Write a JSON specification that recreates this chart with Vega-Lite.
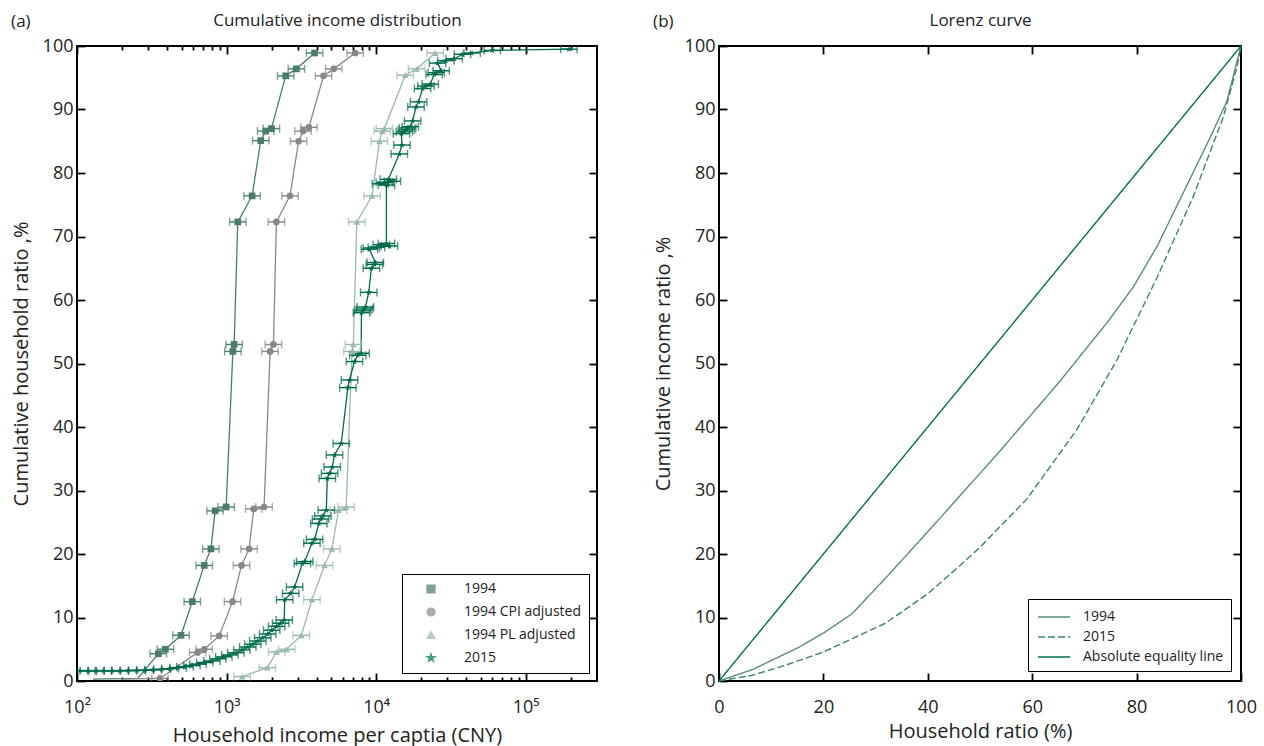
{
 "$schema": "https://vega.github.io/schema/vega-lite/v6.json",
 "padding": {"left": 10, "top": 10, "right": 5, "bottom": 0},
 "config": {
  "font": "Open Sans",
  "view": {"stroke": "#000", "strokeWidth": 2},
  "axis": {"domain": false, "grid": false, "tickColor": "#000", "tickWidth": 1.8, "labelColor": "#222", "titleColor": "#222", "labelFontSize": 18, "titleFontSize": 20, "titleFontWeight": "normal", "labelFont": "Open Sans", "titleFont": "Open Sans", "labelOverlap": false, "labelFlush": false},
  "title": {"font": "Open Sans", "fontSize": 17, "fontWeight": "normal", "color": "#222"},
  "legend": {"labelFont": "Open Sans", "labelColor": "#222"},
  "concat": {"spacing": 53}
 },
 "resolve": {"scale": {"x": "independent", "y": "independent", "color": "independent", "shape": "independent", "strokeDash": "independent"}},
 "datasets": {
  "cdf": [
   {"series":"1994","x":128,"y":0.3},
   {"series":"1994","x":255,"y":0.4},
   {"series":"1994","x":293,"y":2.1},
   {"series":"1994","x":350,"y":4.3,"lo":308,"hi":397},
   {"series":"1994","x":390,"y":5.0,"lo":344,"hi":443},
   {"series":"1994","x":496,"y":7.2,"lo":437,"hi":563},
   {"series":"1994","x":590,"y":12.5,"lo":520,"hi":670},
   {"series":"1994","x":709,"y":18.2,"lo":625,"hi":805},
   {"series":"1994","x":786,"y":20.8,"lo":692,"hi":892},
   {"series":"1994","x":839,"y":26.8,"lo":739,"hi":952},
   {"series":"1994","x":994,"y":27.4,"lo":876,"hi":1128},
   {"series":"1994","x":1102,"y":51.9,"lo":971,"hi":1251},
   {"series":"1994","x":1124,"y":53.0,"lo":990,"hi":1276},
   {"series":"1994","x":1189,"y":72.3,"lo":1048,"hi":1350},
   {"series":"1994","x":1482,"y":76.4,"lo":1306,"hi":1682},
   {"series":"1994","x":1693,"y":85.1,"lo":1492,"hi":1922},
   {"series":"1994","x":1828,"y":86.6,"lo":1610,"hi":2075},
   {"series":"1994","x":1995,"y":87.0,"lo":1758,"hi":2264},
   {"series":"1994","x":2485,"y":95.3,"lo":2189,"hi":2820},
   {"series":"1994","x":2930,"y":96.4,"lo":2581,"hi":3326},
   {"series":"1994","x":3880,"y":98.9,"lo":3418,"hi":4404},
   {"series":"1994 CPI adjusted","x":200,"y":0.3},
   {"series":"1994 CPI adjusted","x":359,"y":0.4,"lo":316,"hi":407},
   {"series":"1994 CPI adjusted","x":641,"y":4.5,"lo":565,"hi":728},
   {"series":"1994 CPI adjusted","x":709,"y":5.0,"lo":625,"hi":805},
   {"series":"1994 CPI adjusted","x":893,"y":7.1,"lo":787,"hi":1014},
   {"series":"1994 CPI adjusted","x":1096,"y":12.5,"lo":966,"hi":1244},
   {"series":"1994 CPI adjusted","x":1259,"y":18.2,"lo":1109,"hi":1429},
   {"series":"1994 CPI adjusted","x":1416,"y":20.8,"lo":1247,"hi":1607},
   {"series":"1994 CPI adjusted","x":1520,"y":27.1,"lo":1339,"hi":1725},
   {"series":"1994 CPI adjusted","x":1782,"y":27.4,"lo":1570,"hi":2023},
   {"series":"1994 CPI adjusted","x":1955,"y":51.9,"lo":1722,"hi":2219},
   {"series":"1994 CPI adjusted","x":2057,"y":53.0,"lo":1812,"hi":2335},
   {"series":"1994 CPI adjusted","x":2155,"y":72.3,"lo":1899,"hi":2446},
   {"series":"1994 CPI adjusted","x":2655,"y":76.4,"lo":2339,"hi":3013},
   {"series":"1994 CPI adjusted","x":3035,"y":85.0,"lo":2674,"hi":3445},
   {"series":"1994 CPI adjusted","x":3245,"y":86.6,"lo":2859,"hi":3683},
   {"series":"1994 CPI adjusted","x":3555,"y":87.2,"lo":3132,"hi":4035},
   {"series":"1994 CPI adjusted","x":4450,"y":95.3,"lo":3920,"hi":5051},
   {"series":"1994 CPI adjusted","x":5212,"y":96.4,"lo":4592,"hi":5916},
   {"series":"1994 CPI adjusted","x":7244,"y":98.9,"lo":6382,"hi":8222},
   {"series":"1994 PL adjusted","x":1271,"y":0.7,"lo":1120,"hi":1443},
   {"series":"1994 PL adjusted","x":1875,"y":2.1,"lo":1652,"hi":2128},
   {"series":"1994 PL adjusted","x":2163,"y":4.6,"lo":1906,"hi":2455},
   {"series":"1994 PL adjusted","x":2523,"y":5.0,"lo":2223,"hi":2864},
   {"series":"1994 PL adjusted","x":3162,"y":7.2,"lo":2786,"hi":3589},
   {"series":"1994 PL adjusted","x":3724,"y":12.8,"lo":3281,"hi":4227},
   {"series":"1994 PL adjusted","x":4519,"y":18.2,"lo":3981,"hi":5129},
   {"series":"1994 PL adjusted","x":5060,"y":20.8,"lo":4458,"hi":5743},
   {"series":"1994 PL adjusted","x":5610,"y":26.9,"lo":4942,"hi":6367},
   {"series":"1994 PL adjusted","x":6310,"y":27.4,"lo":5559,"hi":7162},
   {"series":"1994 PL adjusted","x":6900,"y":51.9,"lo":6079,"hi":7832},
   {"series":"1994 PL adjusted","x":7050,"y":53.0,"lo":6211,"hi":8002},
   {"series":"1994 PL adjusted","x":7430,"y":72.3,"lo":6546,"hi":8433},
   {"series":"1994 PL adjusted","x":9400,"y":76.4,"lo":8281,"hi":10669},
   {"series":"1994 PL adjusted","x":10520,"y":85.0,"lo":9268,"hi":11940},
   {"series":"1994 PL adjusted","x":11000,"y":86.6,"lo":9691,"hi":12485},
   {"series":"1994 PL adjusted","x":11350,"y":87.0,"lo":9999,"hi":12882},
   {"series":"1994 PL adjusted","x":15670,"y":95.4,"lo":13805,"hi":17785},
   {"series":"1994 PL adjusted","x":18660,"y":96.4,"lo":16439,"hi":21179},
   {"series":"1994 PL adjusted","x":24850,"y":98.9,"lo":21893,"hi":28205},
   {"series":"2015","x":105,"y":1.6,"lo":92.5,"hi":119.2},
   {"series":"2015","x":119,"y":1.6,"lo":104.8,"hi":135.1},
   {"series":"2015","x":134,"y":1.6,"lo":118.1,"hi":152.1},
   {"series":"2015","x":150,"y":1.6,"lo":132.2,"hi":170.3},
   {"series":"2015","x":172,"y":1.6,"lo":151.5,"hi":195.2},
   {"series":"2015","x":194,"y":1.6,"lo":170.9,"hi":220.2},
   {"series":"2015","x":220,"y":1.65,"lo":193.8,"hi":249.7},
   {"series":"2015","x":252,"y":1.65,"lo":222,"hi":286},
   {"series":"2015","x":285,"y":1.7,"lo":251.1,"hi":323.5},
   {"series":"2015","x":323,"y":1.75,"lo":284.6,"hi":366.6},
   {"series":"2015","x":370,"y":1.85,"lo":326,"hi":420},
   {"series":"2015","x":419,"y":1.95,"lo":369.1,"hi":475.6},
   {"series":"2015","x":473,"y":2.1,"lo":416.7,"hi":536.9},
   {"series":"2015","x":527,"y":2.25,"lo":464.3,"hi":598.1},
   {"series":"2015","x":587,"y":2.45,"lo":517.1,"hi":666.2},
   {"series":"2015","x":644,"y":2.65,"lo":567.4,"hi":730.9},
   {"series":"2015","x":716,"y":2.9,"lo":630.8,"hi":812.7},
   {"series":"2015","x":798,"y":3.15,"lo":703,"hi":905.7},
   {"series":"2015","x":875,"y":3.5,"lo":770.9,"hi":993.1},
   {"series":"2015","x":959,"y":3.8,"lo":844.9,"hi":1088},
   {"series":"2015","x":1052,"y":4.1,"lo":926.8,"hi":1194},
   {"series":"2015","x":1153,"y":4.45,"lo":1016,"hi":1309},
   {"series":"2015","x":1265,"y":4.9,"lo":1114,"hi":1436},
   {"series":"2015","x":1387,"y":5.35,"lo":1222,"hi":1574},
   {"series":"2015","x":1497,"y":5.8,"lo":1319,"hi":1699},
   {"series":"2015","x":1618,"y":6.3,"lo":1425,"hi":1836},
   {"series":"2015","x":1746,"y":6.8,"lo":1538,"hi":1982},
   {"series":"2015","x":1885,"y":7.4,"lo":1661,"hi":2139},
   {"series":"2015","x":2004,"y":8.0,"lo":1766,"hi":2275},
   {"series":"2015","x":2163,"y":8.6,"lo":1906,"hi":2455},
   {"series":"2015","x":2301,"y":9.1,"lo":2027,"hi":2612},
   {"series":"2015","x":2430,"y":9.6,"lo":2141,"hi":2758},
   {"series":"2015","x":2448,"y":12.8,"lo":2157,"hi":2778},
   {"series":"2015","x":2685,"y":13.8,"lo":2365,"hi":3047},
   {"series":"2015","x":2851,"y":14.8,"lo":2512,"hi":3236},
   {"series":"2015","x":3214,"y":18.5,"lo":2832,"hi":3648},
   {"series":"2015","x":3330,"y":18.8,"lo":2934,"hi":3780},
   {"series":"2015","x":3724,"y":21.7,"lo":3281,"hi":4227},
   {"series":"2015","x":3880,"y":22.3,"lo":3418,"hi":4404},
   {"series":"2015","x":4140,"y":24.8,"lo":3647,"hi":4699},
   {"series":"2015","x":4254,"y":25.5,"lo":3748,"hi":4828},
   {"series":"2015","x":4406,"y":26.0,"lo":3882,"hi":5001},
   {"series":"2015","x":4645,"y":26.9,"lo":4092,"hi":5272},
   {"series":"2015","x":4715,"y":31.9,"lo":4154,"hi":5352},
   {"series":"2015","x":4883,"y":32.7,"lo":4302,"hi":5542},
   {"series":"2015","x":5091,"y":33.7,"lo":4485,"hi":5778},
   {"series":"2015","x":5273,"y":35.6,"lo":4646,"hi":5985},
   {"series":"2015","x":5848,"y":37.4,"lo":5152,"hi":6637},
   {"series":"2015","x":6475,"y":46.2,"lo":5704,"hi":7349},
   {"series":"2015","x":6642,"y":47.4,"lo":5852,"hi":7539},
   {"series":"2015","x":7168,"y":50.3,"lo":6315,"hi":8136},
   {"series":"2015","x":7536,"y":51.3,"lo":6639,"hi":8553},
   {"series":"2015","x":7943,"y":51.6,"lo":6998,"hi":9015},
   {"series":"2015","x":7980,"y":58.0,"lo":7030,"hi":9057},
   {"series":"2015","x":8147,"y":58.3,"lo":7178,"hi":9247},
   {"series":"2015","x":8356,"y":58.6,"lo":7362,"hi":9484},
   {"series":"2015","x":8490,"y":58.9,"lo":7480,"hi":9636},
   {"series":"2015","x":8933,"y":61.2,"lo":7870,"hi":10139},
   {"series":"2015","x":9300,"y":65.0,"lo":8193,"hi":10556},
   {"series":"2015","x":9747,"y":65.6,"lo":8587,"hi":11063},
   {"series":"2015","x":9880,"y":65.9,"lo":8704,"hi":11214},
   {"series":"2015","x":9020,"y":68.0,"lo":7947,"hi":10238},
   {"series":"2015","x":9300,"y":68.2,"lo":8193,"hi":10556},
   {"series":"2015","x":10050,"y":68.3,"lo":8854,"hi":11407},
   {"series":"2015","x":12270,"y":68.5,"lo":10810,"hi":13926},
   {"series":"2015","x":10840,"y":68.7,"lo":9550,"hi":12303},
   {"series":"2015","x":11720,"y":68.9,"lo":10325,"hi":13302},
   {"series":"2015","x":11720,"y":78.1,"lo":10325,"hi":13302},
   {"series":"2015","x":10690,"y":78.3,"lo":9418,"hi":12133},
   {"series":"2015","x":11350,"y":78.5,"lo":9999,"hi":12882},
   {"series":"2015","x":12840,"y":78.7,"lo":11312,"hi":14573},
   {"series":"2015","x":12070,"y":79.0,"lo":10634,"hi":13699},
   {"series":"2015","x":14290,"y":83.0,"lo":12589,"hi":16219},
   {"series":"2015","x":14890,"y":84.4,"lo":13118,"hi":16900},
   {"series":"2015","x":14760,"y":86.2,"lo":13004,"hi":16753},
   {"series":"2015","x":15450,"y":86.5,"lo":13611,"hi":17536},
   {"series":"2015","x":15920,"y":86.8,"lo":14026,"hi":18069},
   {"series":"2015","x":16260,"y":87.1,"lo":14325,"hi":18455},
   {"series":"2015","x":16930,"y":87.3,"lo":14915,"hi":19216},
   {"series":"2015","x":17540,"y":88.2,"lo":15453,"hi":19908},
   {"series":"2015","x":18480,"y":90.4,"lo":16281,"hi":20975},
   {"series":"2015","x":19230,"y":91.2,"lo":16942,"hi":21826},
   {"series":"2015","x":20460,"y":93.3,"lo":18025,"hi":23222},
   {"series":"2015","x":21540,"y":93.7,"lo":18977,"hi":24448},
   {"series":"2015","x":23020,"y":94.0,"lo":20281,"hi":26128},
   {"series":"2015","x":24490,"y":95.5,"lo":21576,"hi":27796},
   {"series":"2015","x":25230,"y":95.8,"lo":22228,"hi":28636},
   {"series":"2015","x":27230,"y":96.1,"lo":23990,"hi":30906},
   {"series":"2015","x":25760,"y":97.3,"lo":22695,"hi":29238},
   {"series":"2015","x":29280,"y":97.7,"lo":25796,"hi":33233},
   {"series":"2015","x":33280,"y":98.0,"lo":29320,"hi":37773},
   {"series":"2015","x":37770,"y":98.7,"lo":33275,"hi":42869},
   {"series":"2015","x":43850,"y":98.9,"lo":38632,"hi":49770},
   {"series":"2015","x":59840,"y":99.3,"lo":52719,"hi":67918},
   {"series":"2015","x":194500,"y":99.5,"lo":171355,"hi":220758}
  ],
  "lorenz": [
   {"series":"1994","x":0,"y":0},
   {"series":"1994","x":6.4,"y":1.8},
   {"series":"1994","x":15.3,"y":5.3},
   {"series":"1994","x":20.1,"y":7.6},
   {"series":"1994","x":25.5,"y":10.6},
   {"series":"1994","x":31.9,"y":16.2},
   {"series":"1994","x":40.1,"y":23.6},
   {"series":"1994","x":46.2,"y":29.2},
   {"series":"1994","x":53.8,"y":36.2},
   {"series":"1994","x":65.3,"y":47.2},
   {"series":"1994","x":74.6,"y":56.7},
   {"series":"1994","x":79.4,"y":62.1},
   {"series":"1994","x":83.9,"y":68.4},
   {"series":"1994","x":87.7,"y":74.8},
   {"series":"1994","x":94.1,"y":85.6},
   {"series":"1994","x":97.3,"y":91.3},
   {"series":"1994","x":100,"y":100},
   {"series":"2015","x":0,"y":0},
   {"series":"2015","x":6.4,"y":0.9},
   {"series":"2015","x":12.8,"y":2.5},
   {"series":"2015","x":20.1,"y":4.6},
   {"series":"2015","x":31.9,"y":9.1},
   {"series":"2015","x":40.1,"y":13.8},
   {"series":"2015","x":46.2,"y":18.2},
   {"series":"2015","x":49.8,"y":20.9},
   {"series":"2015","x":58.9,"y":28.6},
   {"series":"2015","x":68.5,"y":39.5},
   {"series":"2015","x":76.2,"y":50.5},
   {"series":"2015","x":83.9,"y":63.5},
   {"series":"2015","x":90.9,"y":76.4},
   {"series":"2015","x":96.6,"y":88.8},
   {"series":"2015","x":99.2,"y":96.6},
   {"series":"2015","x":100,"y":100},
   {"series":"Absolute equality line","x":0,"y":0},
   {"series":"Absolute equality line","x":100,"y":100}
  ]
 },
 "hconcat": [
  {
   "width": 520,
   "height": 635,
   "title": {"text": "(a)", "anchor": "start", "frame": "bounds", "offset": -20},
   "data": {"name": "cdf"},
   "resolve": {"axis": {"x": "independent", "y": "independent"}},
   "layer": [
    {
     "mark": {"type": "line", "strokeWidth": 1.3, "clip": true},
     "encoding": {
      "x": {"field": "x", "type": "quantitative", "scale": {"type": "log", "domain": [100, 300000], "nice": false},
            "axis": {"orient": "bottom", "values": [100,200,300,400,500,600,700,800,900,1000,2000,3000,4000,5000,6000,7000,8000,9000,10000,20000,30000,40000,50000,60000,70000,80000,90000,100000,200000],
                     "labelExpr": "datum.value == 100 ? '10²' : datum.value == 1000 ? '10³' : datum.value == 10000 ? '10⁴' : datum.value == 100000 ? '10⁵' : ''",
                     "tickSize": {"condition": {"test": "datum.value == 100 || datum.value == 1000 || datum.value == 10000 || datum.value == 100000", "value": -8}, "value": -4},
                     "labelFontSize": 18, "labelPadding": 25, "title": "Household income per captia (CNY)", "titlePadding": 5}},
      "y": {"field": "y", "type": "quantitative", "scale": {"domain": [0, 100], "nice": false},
            "axis": {"orient": "left", "values": [0,10,20,30,40,50,60,70,80,90,100], "tickSize": -8, "labelFontSize": 18, "labelPadding": 12, "title": "Cumulative household ratio ,%", "titlePadding": 11}},
      "order": {"field": "y", "type": "quantitative"},
      "color": {"field": "series", "type": "nominal", "scale": {"domain": ["1994", "1994 CPI adjusted", "1994 PL adjusted", "2015"], "range": ["#4a7d67", "#88888c", "#9bbaab", "#006b4c"]}}
     }
    },
    {
     "transform": [{"filter": "isValid(datum.lo)"}],
     "mark": {"type": "rule", "strokeWidth": 1.4, "clip": true},
     "encoding": {
      "x": {"field": "lo", "type": "quantitative", "scale": {"type": "log", "domain": [100, 300000], "nice": false},
            "axis": {"orient": "top", "values": [100,200,300,400,500,600,700,800,900,1000,2000,3000,4000,5000,6000,7000,8000,9000,10000,20000,30000,40000,50000,60000,70000,80000,90000,100000,200000],
                     "labels": false,
                     "tickSize": {"condition": {"test": "datum.value == 100 || datum.value == 1000 || datum.value == 10000 || datum.value == 100000", "value": -8}, "value": -4},
                     "title": "Cumulative income distribution", "titleFontSize": 17, "titlePadding": 16}},
      "x2": {"field": "hi"},
      "y": {"field": "y", "type": "quantitative", "scale": {"domain": [0, 100], "nice": false},
            "axis": {"orient": "right", "values": [10,20,30,40,50,60,70,80,90], "labels": false, "tickSize": -8, "title": null}},
      "color": {"field": "series", "type": "nominal"}
     }
    },
    {
     "transform": [{"filter": "isValid(datum.lo)"}],
     "mark": {"type": "tick", "orient": "vertical", "size": 8, "thickness": 1.4, "clip": true},
     "encoding": {
      "x": {"field": "lo", "type": "quantitative", "scale": {"type": "log", "domain": [100, 300000], "nice": false}, "axis": null},
      "y": {"field": "y", "type": "quantitative", "scale": {"domain": [0, 100], "nice": false}, "axis": null},
      "color": {"field": "series", "type": "nominal"}
     }
    },
    {
     "transform": [{"filter": "isValid(datum.lo)"}],
     "mark": {"type": "tick", "orient": "vertical", "size": 8, "thickness": 1.4, "clip": true},
     "encoding": {
      "x": {"field": "hi", "type": "quantitative", "scale": {"type": "log", "domain": [100, 300000], "nice": false}, "axis": null},
      "y": {"field": "y", "type": "quantitative", "scale": {"domain": [0, 100], "nice": false}, "axis": null},
      "color": {"field": "series", "type": "nominal"}
     }
    },
    {
     "transform": [{"filter": "isValid(datum.lo)"}],
     "mark": {"type": "point", "filled": true, "opacity": 1, "size": 45, "clip": true},
     "encoding": {
      "x": {"field": "x", "type": "quantitative", "scale": {"type": "log", "domain": [100, 300000], "nice": false}, "axis": null},
      "y": {"field": "y", "type": "quantitative", "scale": {"domain": [0, 100], "nice": false}, "axis": null},
      "color": {"field": "series", "type": "nominal",
                "legend": {"title": null, "orient": "bottom-right", "offset": 8, "fillColor": "#fff", "strokeColor": "#000", "padding": 8, "labelFontSize": 14, "symbolSize": 60, "symbolOpacity": 1, "rowPadding": 9, "labelOffset": 26, "symbolOffset": 14}},
      "shape": {"field": "series", "type": "nominal",
                "scale": {"domain": ["1994", "1994 CPI adjusted", "1994 PL adjusted", "2015"], "range": ["square", "circle", "triangle-up", "M0,-1L0.2245,-0.309L0.951,-0.309L0.363,0.118L0.588,0.809L0,0.382L-0.588,0.809L-0.363,0.118L-0.951,-0.309L-0.2245,-0.309Z"]},
                "legend": {"title": null, "orient": "bottom-right", "offset": 8, "fillColor": "#fff", "strokeColor": "#000", "padding": 8, "labelFontSize": 14, "symbolSize": 60, "symbolOpacity": 1, "rowPadding": 9, "labelOffset": 26, "symbolOffset": 14}}
     }
    }
   ]
  },
  {
   "width": 522,
   "height": 635,
   "title": {"text": "(b)", "anchor": "start", "frame": "bounds", "offset": -20},
   "data": {"name": "lorenz"},
   "resolve": {"axis": {"x": "independent", "y": "independent"}},
   "layer": [
    {
     "mark": {"type": "line", "strokeWidth": 1.4},
     "encoding": {
      "x": {"field": "x", "type": "quantitative", "scale": {"domain": [0, 100], "nice": false},
            "axis": {"orient": "bottom", "values": [0,20,40,60,80,100], "tickSize": -8, "labelFontSize": 18, "labelPadding": 25, "title": "Household ratio (%)", "titlePadding": 5}},
      "y": {"field": "y", "type": "quantitative", "scale": {"domain": [0, 100], "nice": false},
            "axis": {"orient": "left", "values": [0,10,20,30,40,50,60,70,80,90,100], "tickSize": -8, "labelFontSize": 18, "labelPadding": 12, "title": "Cumulative income ratio ,%", "titlePadding": 11}},
      "color": {"field": "series", "type": "nominal", "scale": {"domain": ["1994", "2015", "Absolute equality line"], "range": ["#5b8d78", "#3d8468", "#00704f"]},
                "legend": {"title": null, "orient": "bottom-right", "offset": 10, "fillColor": "#fff", "strokeColor": "#000", "padding": 7, "labelFontSize": 14, "symbolType": "M-1.6,0L1.6,0", "symbolSize": 400, "symbolStrokeWidth": 1.4, "rowPadding": 2, "labelOffset": 18, "symbolOffset": 8}},
      "strokeDash": {"field": "series", "type": "nominal", "scale": {"domain": ["1994", "2015", "Absolute equality line"], "range": [[1, 0], [7, 3], [1, 0]]},
                "legend": {"title": null, "orient": "bottom-right", "offset": 10, "fillColor": "#fff", "strokeColor": "#000", "padding": 7, "labelFontSize": 14, "symbolType": "M-1.6,0L1.6,0", "symbolSize": 400, "symbolStrokeWidth": 1.4, "rowPadding": 2, "labelOffset": 18, "symbolOffset": 8}}
     }
    },
    {
     "mark": {"type": "point", "opacity": 0},
     "encoding": {
      "x": {"field": "x", "type": "quantitative", "scale": {"domain": [0, 100], "nice": false},
            "axis": {"orient": "top", "values": [20,40,60,80], "labels": false, "tickSize": -8, "title": "Lorenz curve", "titleFontSize": 17, "titlePadding": 16}},
      "y": {"field": "y", "type": "quantitative", "scale": {"domain": [0, 100], "nice": false},
            "axis": {"orient": "right", "values": [10,20,30,40,50,60,70,80,90], "labels": false, "tickSize": -8, "title": null}}
     }
    }
   ]
  }
 ]
}
